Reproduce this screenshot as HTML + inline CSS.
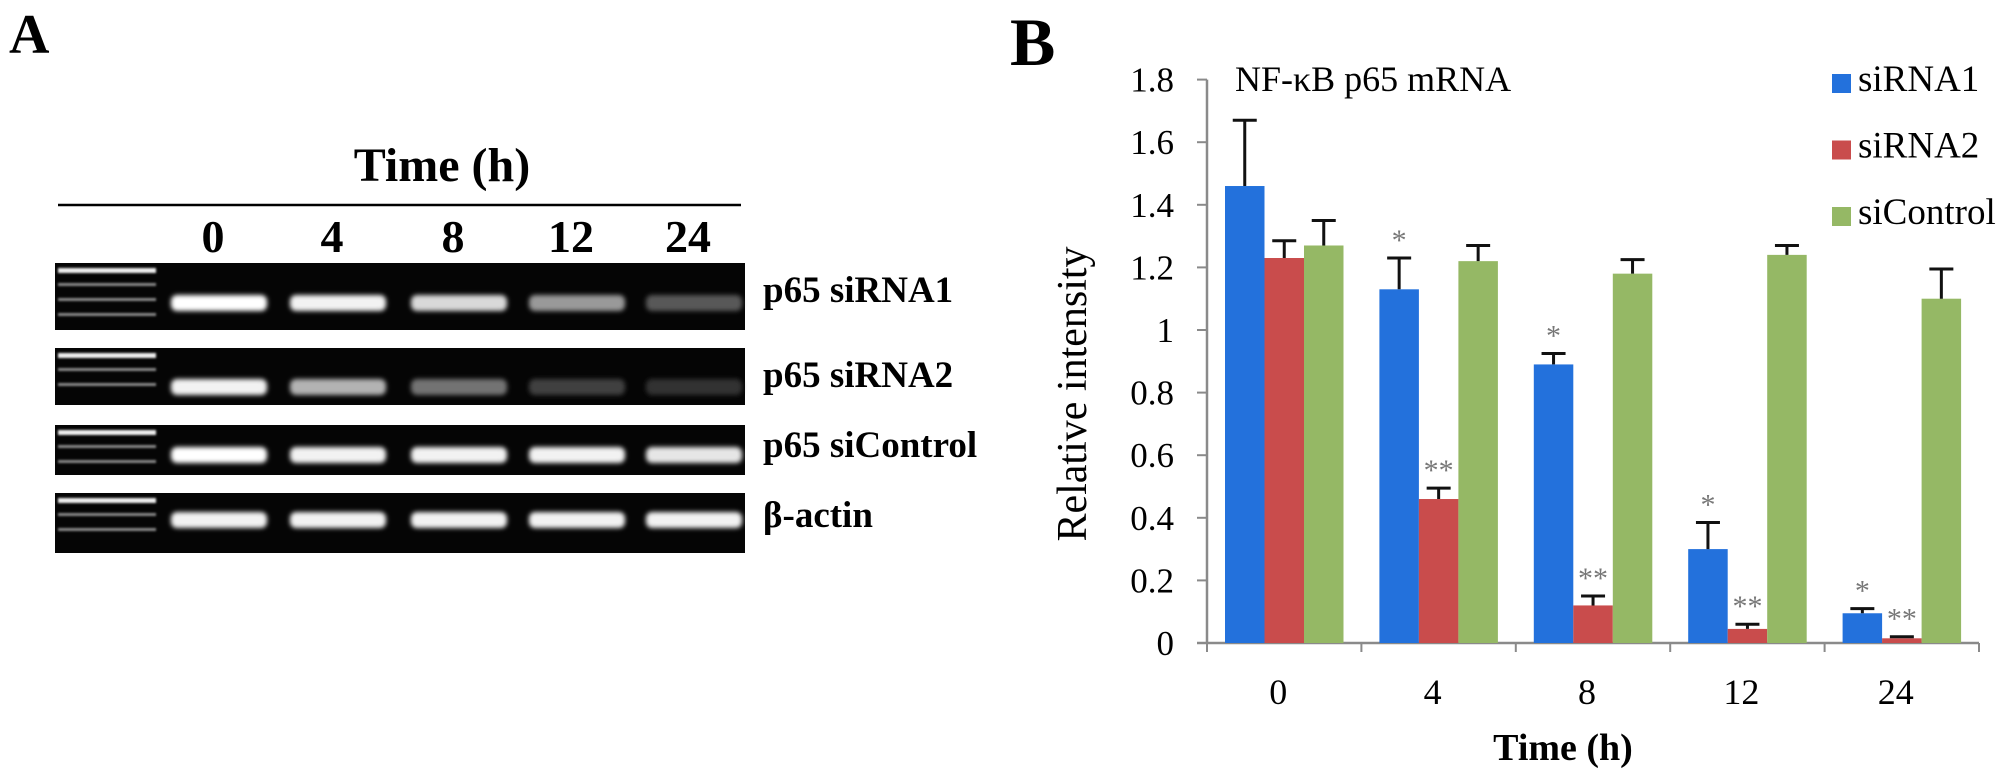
<!DOCTYPE html>
<html><head><meta charset="utf-8">
<style>
html,body{margin:0;padding:0;background:#fff;}
svg{display:block;}
</style></head>
<body>
<svg id="fig" width="2008" height="782" viewBox="0 0 2008 782" xmlns="http://www.w3.org/2000/svg">
<defs>
<filter id="blur" x="-20%" y="-100%" width="140%" height="300%"><feGaussianBlur stdDeviation="2.5"/></filter>
<filter id="blur2" x="-20%" y="-100%" width="140%" height="300%"><feGaussianBlur stdDeviation="1"/></filter>
</defs>
<!-- Panel A -->
<g id="panelA" font-family="Liberation Serif, serif" font-weight="bold">
<text x="9" y="53" font-size="56">A</text>
<text x="442" y="181" font-size="48" text-anchor="middle">Time (h)</text>
<line x1="58" y1="205" x2="741" y2="205" stroke="#000" stroke-width="2.5"/>
<g id="laneLabels" font-size="46" text-anchor="middle"></g>
<g id="gels"></g>
<g font-size="37">
<text x="763" y="302">p65 siRNA1</text>
<text x="763" y="387">p65 siRNA2</text>
<text x="763" y="457">p65 siControl</text>
<text x="763" y="527">β-actin</text>
</g>
</g>
<!-- Panel B -->
<g id="panelB" font-family="Liberation Serif, serif">
<text x="1010" y="65" font-size="68" font-weight="bold">B</text>
<text x="1235" y="91" font-size="36">NF-κB p65 mRNA</text>
<text transform="translate(1086,394) rotate(-90)" font-size="42" text-anchor="middle">Relative intensity</text>
<text x="1563" y="760" font-size="38" font-weight="bold" text-anchor="middle">Time (h)</text>
<g id="axes"></g>
<g id="bars"></g>
<g id="legend"></g>
</g>
</svg>
<script>
// ---- chart data ----
const categories = ["0", "4", "8", "12", "24"];
const seriesNames = ["siRNA1", "siRNA2", "siControl"];
const siRNA1 = [1.46, 1.13, 0.89, 0.30, 0.095];
const siRNA2 = [1.23, 0.46, 0.12, 0.045, 0.015];
const siControl = [1.27, 1.22, 1.18, 1.24, 1.10];
const siRNA1Err = [0.21, 0.10, 0.035, 0.085, 0.015];
const siRNA2Err = [0.055, 0.035, 0.03, 0.015, 0.005];
const siControlErr = [0.08, 0.05, 0.045, 0.03, 0.095];
const siRNA1Sig = ["", "*", "*", "*", "*"];
const siRNA2Sig = ["", "**", "**", "**", "**"];
const siControlSig = ["", "", "", "", ""];
const yTicks = [0, 0.2, 0.4, 0.6, 0.8, 1, 1.2, 1.4, 1.6, 1.8];
const yTickLabels = ["0", "0.2", "0.4", "0.6", "0.8", "1", "1.2", "1.4", "1.6", "1.8"];
// gel data: relative band intensity per lane
const gelLanes = ["0", "4", "8", "12", "24"];
const gelRows = ["p65 siRNA1", "p65 siRNA2", "p65 siControl", "beta-actin"];
const gelSiRNA1 = [1.0, 0.95, 0.85, 0.6, 0.35];
const gelSiRNA2 = [0.95, 0.7, 0.45, 0.25, 0.2];
const gelSiControl = [1.0, 0.95, 0.95, 0.95, 0.9];
const gelActin = [0.95, 0.95, 0.95, 0.95, 0.95];

const NS = "http://www.w3.org/2000/svg";
function mk(tag, attrs, parent){const e=document.createElementNS(NS,tag);for(const k in attrs)e.setAttribute(k,attrs[k]);parent.appendChild(e);return e;}

// ---- axis functions ----
const X0 = 1207, CATW = 154.4, Y0 = 643, YSCALE = 313;
const BARW = 39.5, PAD = 18;
function yPos(v){return Y0 - v*YSCALE;}
function catX(i){return X0 + i*CATW;}
function barX(i,s){return catX(i) + PAD + s*BARW;}

const colors = ["#2371DC", "#C94C4C", "#95B865"];
const seriesVals = [siRNA1, siRNA2, siControl];
const seriesErr = [siRNA1Err, siRNA2Err, siControlErr];
const seriesSig = [siRNA1Sig, siRNA2Sig, siControlSig];

const axes = document.getElementById('axes');
const yAxis = mk('line',{x1:X0,y1:yPos(1.8),x2:X0,y2:Y0,stroke:'#8a8a8a','stroke-width':2.5},axes);


const xAxis = mk('line',{x1:X0-10,y1:Y0,x2:catX(categories.length),y2:Y0,stroke:'#8a8a8a','stroke-width':2.5},axes);


yTicks.forEach((t,i)=>{
  const tk = mk('line',{x1:X0-10,y1:yPos(t),x2:X0,y2:yPos(t),stroke:'#8a8a8a','stroke-width':2},axes);
  
  
  const tl = mk('text',{x:1174,y:yPos(t)+12,'font-size':35,'text-anchor':'end'},axes);
  tl.textContent = yTickLabels[i];
  
  
});
for(let i=0;i<=categories.length;i++){
  const tk = mk('line',{x1:catX(i),y1:Y0,x2:catX(i),y2:Y0+9,stroke:'#8a8a8a','stroke-width':2},axes);
  
  
}
categories.forEach((c,i)=>{
  const tl = mk('text',{x:catX(i)+CATW/2-6,y:704,'font-size':36,'text-anchor':'middle'},axes);
  tl.textContent = c;
  
  
});

const bars = document.getElementById('bars');
seriesVals.forEach((vals,s)=>{
  vals.forEach((v,i)=>{
    const x = barX(i,s);
    const r = mk('rect',{x:x,y:yPos(v),width:BARW,height:Y0-yPos(v),fill:colors[s]},bars);
    
    
    const cx = x + BARW/2, top = yPos(v+seriesErr[s][i]);
    const el = mk('path',{d:`M${cx},${yPos(v)} V${top} M${cx-12},${top} H${cx+12}`,stroke:'#111','stroke-width':3,fill:'none'},bars);
    
    
    if(seriesSig[s][i]){
      const st = mk('text',{x:cx,y:top-8,'font-size':30,'text-anchor':'middle',fill:'#777'},bars);
      st.textContent = seriesSig[s][i];
      
      
    }
  });
});

const legend = document.getElementById('legend');
seriesNames.forEach((n,s)=>{
  const y = 91 + s*66.5;
  const g = mk('g',{},legend);
  
  
  mk('rect',{x:1832,y:y-17,width:19,height:19,fill:colors[s]},g);
  const t = mk('text',{x:1858,y:y,'font-size':37},g);
  t.textContent = n;
});

// ---- panel A gel ----
const laneCx = [219, 338, 459, 577, 694];
const laneLabels = document.getElementById('laneLabels');
gelLanes.forEach((l,i)=>{
  const t = mk('text',{x:laneCx[i]-6,y:252},laneLabels);
  t.textContent = l;
  
  
});
const strips = [[263,330,304,gelSiRNA1],[348,405,388,gelSiRNA2],[425,475,456,gelSiControl],[493,553,521,gelActin]];
const gels = document.getElementById('gels');
strips.forEach((st,r)=>{
  const g = mk('g',{},gels);
  
  
  mk('rect',{x:55,y:st[0],width:690,height:st[1]-st[0],fill:'#050505'},g);
  const nl = Math.floor((st[1]-st[0])/16);
  for(let k=0;k<nl;k++){
    mk('rect',{x:58,y:st[0]+5+k*15,width:98,height:k===0?5:3,fill:k===0?'#eee':'#888',filter:'url(#blur2)'},g);
  }
  st[3].forEach((v,i)=>{
    const c = Math.round(255*v);
    mk('rect',{x:laneCx[i]-48,y:st[2]-9,width:96,height:16,rx:6,fill:`rgb(${c},${c},${c})`,filter:'url(#blur)'},g);
  });
});
</script>
</body></html>
